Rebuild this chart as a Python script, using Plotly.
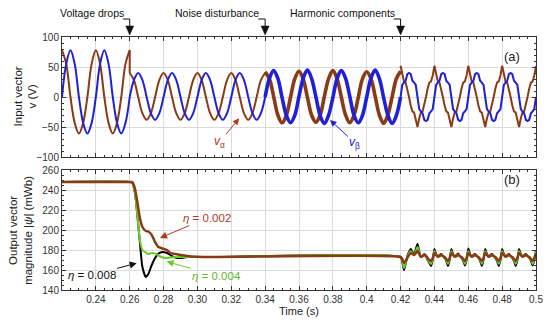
import numpy as np
import plotly.graph_objects as go

# ---------------- data ----------------
# time grids (s)
t_drop = np.round(np.linspace(0.22, 0.26, 17), 5)
t_sag = np.round(np.linspace(0.26, 0.34, 33), 5)
t_noise = np.round(np.linspace(0.34, 0.42, 33), 5)
t_harm = np.round(np.linspace(0.42, 0.50, 81), 5)

# input vector components (V)
va_drop = [78, 55.2, 0, -43.1, -61, -43.1, 0, 55.2, 78, 55.2, 0, -43.1, -61, -43.1, 0, 55.2, 78]
vb_drop = [0, 55.2, 78, 55.2, 0, -43.1, -61, -43.1, 0, 55.2, 78, 55.2, 0, -43.1, -61, -43.1, 0]

va_sag = [40, 28.3, 0, -26.9, -38, -26.9, 0, 28.3,
          40, 28.3, 0, -26.9, -38, -26.9, 0, 28.3,
          40, 28.3, 0, -26.9, -38, -26.9, 0, 28.3,
          40, 28.3, 0, -26.9, -38, -26.9, 0, 28.3,
          40]
vb_sag = [0, 28.3, 40, 28.3, 0, -26.9, -38, -26.9,
          0, 28.3, 40, 28.3, 0, -26.9, -38, -26.9,
          0, 28.3, 40, 28.3, 0, -26.9, -38, -26.9,
          0, 28.3, 40, 28.3, 0, -26.9, -38, -26.9,
          0]

va_noise = [42, 30.4, 1, -30, -43, -30.8, 0, 30.2,
            43, 29.8, -1, -30.6, -42, -30.1, 1, 30.8,
            44, 30.1, 0, -29.9, -43, -30.5, -1, 30.3,
            42, 30.6, 1, -30.2, -44, -29.8, 0, 30.4,
            43]
vb_noise = [0, 30.6, 44, 31, -1, -30.4, -43, -30.7,
            1, 31.2, 45, 30.3, 0, -30.9, -44, -30.2,
            -1, 30.8, 44, 31.1, 1, -30.5, -43, -30.6,
            0, 30.9, 45, 30.6, -1, -30.3, -44, -30.8,
            0]

va_harm = [52, 36, 26, 24, 14, 0, -14, -24, -26, -36, -50, -36, -26, -24, -14, 0, 14, 24, 26, 36,
           52, 36, 26, 24, 14, 0, -14, -24, -26, -36, -50, -36, -26, -24, -14, 0, 14, 24, 26, 36,
           52, 36, 26, 24, 14, 0, -14, -24, -26, -36, -50, -36, -26, -24, -14, 0, 14, 24, 26, 36,
           52, 36, 26, 24, 14, 0, -14, -24, -26, -36, -50, -36, -26, -24, -14, 0, 14, 24, 26, 36,
           52]
vb_harm = [0, 20, 24, 27, 38, 40, 38, 27, 24, 20, 0, -20, -24, -27, -38, -40, -38, -27, -24, -20,
           0, 20, 24, 27, 38, 40, 38, 27, 24, 20, 0, -20, -24, -27, -38, -40, -38, -27, -24, -20,
           0, 20, 24, 27, 38, 40, 38, 27, 24, 20, 0, -20, -24, -27, -38, -40, -38, -27, -24, -20,
           0, 20, 24, 27, 38, 40, 38, 27, 24, 20, 0, -20, -24, -27, -38, -40, -38, -27, -24, -20,
           0]

# output flux magnitude (mWb)
t_flux_a = [0.22, 0.26, 0.2615, 0.263, 0.2645, 0.266, 0.2675, 0.2695, 0.271, 0.273, 0.275,
            0.277, 0.2795, 0.282, 0.284, 0.287, 0.290, 0.294, 0.300, 0.310, 0.420]
t_flux_b = np.round(np.linspace(0.421, 0.50, 80), 5)

psi_008_a = [248, 248, 247, 238, 215, 188, 163, 153, 156, 165, 172,
             176.5, 178, 177, 175, 172.5, 172, 173, 173, 173, 173]
psi_004_a = [248, 248, 247, 238, 215, 190, 180, 177.5, 176, 177, 176.5,
             174.5, 172.5, 172, 172.5, 173, 173, 173, 173, 173, 173]
psi_002_a = [248, 248, 248, 242, 228, 212, 203, 199, 198.5, 195, 188,
             183, 181.5, 180, 177, 176, 175, 174, 173.3, 173, 173]

psi_008_b = [168, 160, 166, 174, 178, 181, 178, 176, 181, 186, 179, 173, 174, 176, 174, 170, 167, 164, 170, 181,
             176, 173, 175, 176, 174, 172, 169, 164, 170, 181,
             176, 173, 175, 176.5, 174, 172, 169, 164.5, 170, 181.5,
             176, 173, 175, 176, 174, 172, 169, 164, 170, 181,
             176, 173, 175, 176, 174, 172, 169, 164, 170, 181,
             176, 173, 175, 176, 174, 172, 169, 164, 170, 181,
             176, 173, 175, 176, 174, 172, 169, 164.5, 170, 180]
psi_004_b = [169, 162, 167, 173, 177, 179, 177, 175.5, 179, 183, 178, 173, 174, 175.5, 174, 171, 168, 166, 171, 179,
             175, 173, 174.5, 175.5, 174, 172, 170, 166, 171, 179,
             175, 173, 174.5, 175.5, 174, 172, 170, 166, 171, 179,
             175, 173, 174.5, 175.5, 174, 172, 170, 166, 171, 179,
             175, 173, 174.5, 175.5, 174, 172, 170, 166, 171, 179,
             175, 173, 174.5, 175.5, 174, 172, 170, 166, 171, 179,
             175, 173, 174.5, 175.5, 174, 172, 170, 166, 171, 178.5]
psi_002_b = [171, 167, 169, 172, 175, 177, 176, 175, 177, 179, 176, 173, 174, 175, 174, 172, 170, 169, 172, 177,
             175, 173.5, 174, 175, 174, 173, 171, 169, 172, 177,
             175, 173.5, 174, 175, 174, 173, 171, 169, 172, 177,
             175, 173.5, 174, 175, 174, 173, 171, 169, 172, 177,
             175, 173.5, 174, 175, 174, 173, 171, 169, 172, 177,
             175, 173.5, 174, 175, 174, 173, 171, 169, 172, 177,
             175, 173.5, 174, 175, 174, 173, 171, 169, 172, 176.5]

x_tickvals = [0.24, 0.26, 0.28, 0.30, 0.32, 0.34, 0.36, 0.38, 0.40, 0.42, 0.44, 0.46, 0.48, 0.50]
x_ticktext = ["0.24", "0.26", "0.28", "0.30", "0.32", "0.34", "0.36", "0.38", "0.4",
              "0.42", "0.44", "0.46", "0.48", "0.5"]
y1_tickvals = [-100, -50, 0, 50, 100]
y2_tickvals = [140, 160, 180, 200, 220, 240, 260]

events_t = [0.26, 0.34, 0.42]
events_txt = ["Voltage drops", "Noise disturbance", "Harmonic components"]

# ---------------- styling ----------------
C_A = "#8a3a14"
C_B = "#2020d8"
C_G = "#6ccc2c"
C_K = "#000000"
C_TXT_A = "#b03a1e"
FONT = "Liberation Sans"

fig = go.Figure()

def top(x, y, color, width=2, shape="spline"):
    fig.add_trace(go.Scatter(x=list(x), y=list(y), mode="lines", xaxis="x", yaxis="y",
                             line=dict(color=color, width=width, shape=shape),
                             showlegend=False, hoverinfo="skip"))

top(t_drop, va_drop, C_A)
top([t_drop[-1], t_sag[0]], [va_drop[-1], va_sag[0]], C_A, shape="linear")
top(t_sag, va_sag, C_A)
top(t_noise, va_noise, C_A, width=3.6)
top(t_harm, va_harm, C_A, shape="linear")
top(t_drop, vb_drop, C_B)
top(t_sag, vb_sag, C_B)
top(t_noise, vb_noise, C_B, width=3.6)
top(t_harm, vb_harm, C_B, shape="linear")

for ya, yb, color, w in [(psi_008_a, psi_008_b, C_K, 2),
                         (psi_004_a, psi_004_b, C_G, 2),
                         (psi_002_a, psi_002_b, C_A, 2.5)]:
    fig.add_trace(go.Scatter(x=list(t_flux_a) + list(t_flux_b), y=ya + yb, mode="lines",
                             xaxis="x2", yaxis="y2",
                             line=dict(color=color, width=w, shape="spline", smoothing=0.6),
                             showlegend=False, hoverinfo="skip"))

axis_common = dict(showline=True, linecolor="#333333", linewidth=1, mirror="ticks",
                   ticks="inside", ticklen=4, tickcolor="#333333", showgrid=True,
                   gridcolor="#dadada", gridwidth=1, zeroline=False, automargin=False,
                   tickfont=dict(family=FONT, size=10, color="#333333"))

fig.update_layout(
    width=550, height=326,
    margin=dict(l=62, r=14, t=37, b=36),
    paper_bgcolor="white", plot_bgcolor="white",
    font=dict(family=FONT, size=11, color="#222222"),
    xaxis=dict(axis_common, domain=[0, 1], anchor="y", range=[0.22, 0.50],
               tickmode="array", tickvals=x_tickvals, ticktext=x_ticktext,
               showticklabels=False, matches="x2",
               minor=dict(ticks="inside", ticklen=2, tickcolor="#333333",
                          tickmode="linear", tick0=0.22, dtick=0.005)),
    yaxis=dict(axis_common, domain=[0.5257, 1], anchor="x", range=[-100, 100],
               tickmode="array", tickvals=y1_tickvals,
               minor=dict(ticks="inside", ticklen=2, tickcolor="#333333",
                          tickmode="linear", tick0=0, dtick=10)),
    xaxis2=dict(axis_common, domain=[0, 1], anchor="y2", range=[0.22, 0.50],
                tickmode="array", tickvals=x_tickvals, ticktext=x_ticktext,
                title=dict(text="Time (s)", font=dict(family=FONT, size=11, color="#222222"),
                           standoff=2),
                minor=dict(ticks="inside", ticklen=2, tickcolor="#333333",
                           tickmode="linear", tick0=0.22, dtick=0.005)),
    yaxis2=dict(axis_common, domain=[0, 0.4743], anchor="x2", range=[140, 260],
                tickmode="array", tickvals=y2_tickvals,
                minor=dict(ticks="inside", ticklen=2, tickcolor="#333333",
                           tickmode="linear", tick0=140, dtick=5)),
)

ann = []
# y-axis titles
ann.append(dict(text="Input vector<br>v (V)", xref="paper", yref="paper", x=-0.077, y=0.763,
                textangle=-90, showarrow=False, font=dict(size=11.5, color="#222222"),
                xanchor="center", yanchor="middle"))
ann.append(dict(text="Output vector<br>magnitude |<i>ψ</i>| (mWb)", xref="paper", yref="paper",
                x=-0.089, y=0.237, textangle=-90, showarrow=False,
                font=dict(size=11.5, color="#222222"), xanchor="center", yanchor="middle"))
# panel labels
ann.append(dict(text="(a)", xref="paper", yref="paper", x=0.970, y=0.960, showarrow=False,
                font=dict(size=13, color="#222222")))
ann.append(dict(text="(b)", xref="paper", yref="paper", x=0.970, y=0.435, showarrow=False,
                font=dict(size=13, color="#222222")))
# event labels
for te, txt in zip(events_t, events_txt):
    ann.append(dict(text=txt, xref="x", yref="paper", x=te - 0.0022, y=1.0949,
                    xanchor="right", yanchor="middle", showarrow=False,
                    font=dict(size=10.5, color="#111111")))
# signal labels
ann.append(dict(text="<i>v</i><sub>α</sub>", xref="x", yref="y", x=0.3247, y=-35.5,
                ax=-20, ay=24, showarrow=True, arrowhead=2, arrowsize=1.3, arrowwidth=1,
                arrowcolor=C_TXT_A, font=dict(size=12, color=C_TXT_A)))
ann.append(dict(text="<i>v</i><sub>β</sub>", xref="x", yref="y", x=0.3783, y=-38.3,
                ax=25, ay=23, showarrow=True, arrowhead=2, arrowsize=1.3, arrowwidth=1,
                arrowcolor=C_B, font=dict(size=12, color=C_B)))
ann.append(dict(text="<i>η</i> = 0.002", xref="x2", yref="y2", x=0.2779, y=192,
                ax=47, ay=-20, showarrow=True, arrowhead=2, arrowsize=1.4, arrowwidth=1,
                arrowcolor=C_TXT_A, font=dict(size=11.5, color=C_TXT_A)))
ann.append(dict(text="<i>η</i> = 0.008", xref="x2", yref="y2", x=0.2641, y=166.8,
                ax=-45, ay=12, showarrow=True, arrowhead=2, arrowsize=1.4, arrowwidth=1,
                arrowcolor="#111111", font=dict(size=11.5, color="#111111")))
ann.append(dict(text="<i>η</i> = 0.004", xref="x2", yref="y2", x=0.2818, y=168.4,
                ax=50, ay=14, showarrow=True, arrowhead=2, arrowsize=1.4, arrowwidth=1,
                arrowcolor=C_G, font=dict(size=11.5, color="#5cb82a")))
fig.update_layout(annotations=ann)

# event connectors with arrowheads
shapes = []
hw = 0.00236
for te in events_t:
    shapes.append(dict(type="line", xref="x", yref="paper", x0=te - 0.004, x1=te,
                       y0=1.0711, y1=1.0711, line=dict(color="#111111", width=1)))
    shapes.append(dict(type="line", xref="x", yref="paper", x0=te, x1=te,
                       y0=1.0711, y1=1.0435, line=dict(color="#111111", width=1)))
    shapes.append(dict(type="path", xref="x", yref="paper",
                       path=f"M {te - hw},1.0435 L {te + hw},1.0435 L {te},1.0079 Z",
                       fillcolor="#111111", line=dict(color="#111111", width=0.5)))
fig.update_layout(shapes=shapes)

fig.write_html("out.html",
               config={"displayModeBar": False},
               post_script="document.body.style.margin='0';document.body.style.padding='0';")
